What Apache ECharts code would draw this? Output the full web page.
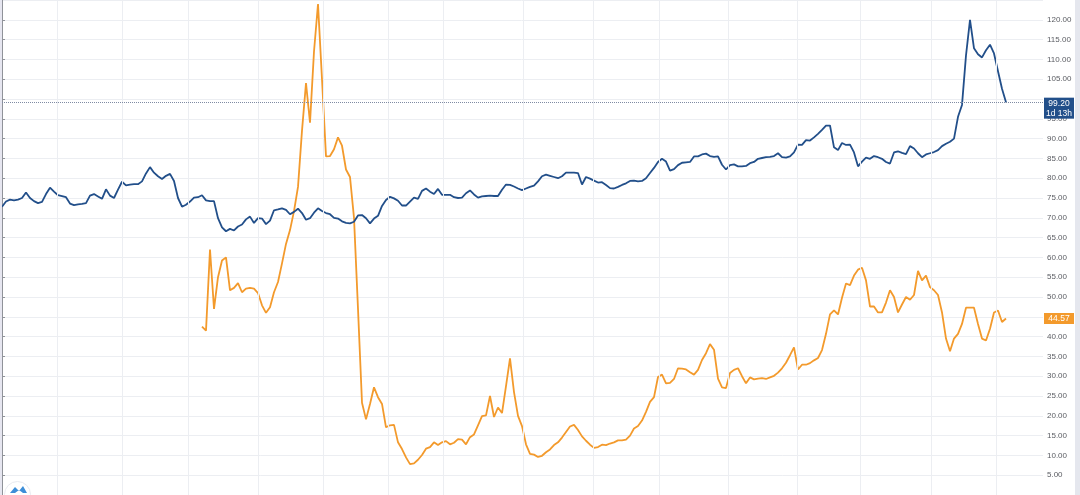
<!DOCTYPE html>
<html>
<head>
<meta charset="utf-8">
<script src="https://cdn.jsdelivr.net/npm/echarts@6/dist/echarts.min.js"></script>
<style>
html,body{margin:0;padding:0;background:#fff;}
#chart{width:1080px;height:495px;}
</style>
</head>
<body>
<div id="chart"></div>
<script>
// Blue series (one value per bar, index 0..251)
const blueValues = [
72.8,74.1,74.6,74.4,74.6,75.0,76.4,75.0,74.2,73.7,
74.0,76.0,77.6,76.6,75.7,75.5,75.2,73.6,73.2,73.4,
73.5,73.7,75.6,76.0,75.4,74.8,77.2,75.6,75.0,77.1,
79.1,78.2,78.4,78.5,78.5,79.2,81.2,82.8,81.4,80.5,
79.8,80.6,81.1,79.3,75.0,72.8,73.3,74.1,75.1,75.2,
75.7,74.4,74.2,74.2,69.9,67.6,66.6,67.2,66.8,67.8,
68.3,69.6,70.3,68.7,69.9,69.8,68.4,69.3,71.9,72.1,
72.4,72.0,70.9,71.5,72.3,71.2,69.5,69.9,71.3,72.4,
71.7,71.2,70.9,70.0,69.8,69.1,68.7,68.6,69.0,70.6,
70.7,69.9,68.6,69.8,70.5,73.0,74.5,75.3,74.9,74.3,
73.1,73.1,74.1,75.1,74.8,76.8,77.4,76.6,76.0,77.3,
75.8,75.8,75.8,75.2,75.0,75.1,76.2,76.9,75.9,75.1,
75.4,75.5,75.6,75.5,75.5,77.1,78.4,78.3,77.9,77.4,
77.0,77.4,77.8,78.1,79.2,80.5,80.9,80.6,80.3,80.0,
80.5,81.4,81.4,81.4,81.3,78.4,80.3,79.9,79.4,78.9,
79.0,78.3,77.5,77.4,77.8,78.3,78.7,79.3,79.4,79.2,
79.3,80.0,81.3,82.6,84.1,84.9,84.2,81.9,82.3,83.3,
83.9,84.0,84.1,85.5,85.5,86.0,86.2,85.6,85.4,85.5,
83.4,82.2,83.3,83.5,83.0,83.0,83.1,83.8,84.1,84.9,
85.1,85.3,85.4,85.6,86.3,85.3,85.2,85.5,86.5,88.5,
88.4,89.6,89.5,90.3,91.2,92.2,93.3,93.3,87.8,87.1,
88.9,88.4,88.5,86.5,83.0,84.2,85.2,84.9,85.6,85.3,
84.9,84.1,83.7,86.5,86.8,86.4,86.1,88.1,87.5,86.3,
85.3,86.0,86.3,86.6,87.1,88.1,88.7,89.2,90.0,95.5,
98.5,111.0,120.0,112.8,111.3,110.5,112.3,113.7,111.5,107.0,
102.6,99.2
];

// Orange series starts at bar index 50
const orangeStart = 50;
const orangeValues = [
42.5,41.5,62.0,47.0,55.0,59.2,60.0,51.7,52.3,53.5,
51.2,52.1,52.3,52.1,51.0,47.9,46.0,47.4,51.2,53.8,
58.5,63.4,66.9,71.7,77.8,92.0,104.0,94.0,112.0,124.0,
105.0,85.5,85.6,87.3,90.3,88.2,82.2,80.3,70.0,47.0,
23.3,19.1,23.0,27.2,24.7,23.0,17.1,17.6,17.7,13.3,
11.6,9.5,7.8,8.0,8.9,10.1,11.7,12.1,13.3,12.6,
13.3,13.6,12.8,13.2,14.1,14.0,12.8,14.6,15.3,17.6,
19.9,20.1,25.0,19.7,22.1,20.7,27.5,34.5,26.0,20.0,
17.4,12.8,10.4,10.2,9.6,9.9,10.8,11.5,12.6,13.3,
14.5,15.9,17.3,17.7,16.4,14.8,13.7,12.7,11.9,12.1,
12.7,12.6,13.0,13.3,13.8,13.8,14.0,15.0,16.8,17.4,
18.8,21.0,23.5,24.7,29.8,30.4,28.2,28.3,29.3,32.0,
31.9,31.7,31.0,30.4,31.6,34.1,35.8,38.1,36.7,29.4,
27.2,27.0,30.8,31.6,32.0,30.0,28.2,29.7,29.2,29.4,
29.5,29.3,29.7,30.1,30.9,32.0,33.4,35.3,37.3,31.7,
32.9,32.9,33.3,34.0,34.6,36.6,40.7,45.6,46.6,45.6,
49.8,53.4,53.0,55.4,56.9,57.4,54.2,47.6,47.6,46.1,
46.1,48.6,51.7,50.0,46.1,48.1,50.0,49.3,50.5,56.6,
54.2,55.4,52.5,51.7,50.5,46.1,39.5,36.3,39.5,40.7,
43.2,47.3,47.3,47.3,43.2,39.5,39.0,42.0,46.1,46.6,
43.7,44.57
];

// Vertical grid (time-axis) tick positions, in bar index units
const xGridTicks = [13.75, 30, 46.5, 64, 80.25, 96.5, 110.25, 130.25, 147.75, 164.25, 181.5, 198.75, 214.5, 232.25, 248.5];

// Price-axis ticks
const yMin = 0, yMax = 125, yStep = 5;

const blueLast = blueValues[blueValues.length - 1];
const orangeLast = orangeValues[orangeValues.length - 1];
const countdownText = '1d 13h';

const BLUE = '#224f8a';
const ORANGE = '#f39a2c';
const FONT = 'Liberation Sans, Arial, sans-serif';

const chart = echarts.init(document.getElementById('chart'), null, {renderer: 'canvas'});

const blueData = blueValues.map((v, i) => [i, v]);
const orangeData = orangeValues.map((v, k) => [orangeStart + k, v]);

const boxStyle = (bg) => ({
  backgroundColor: bg, color: '#ffffff', fontSize: 8.5, fontFamily: FONT,
  width: 26, align: 'center', lineHeight: 10, padding: [1, 2]
});

// axis labels that sit under a last-price box are hidden (as the price scale does)
const hiddenNear = [blueLast, orangeLast];

const option = {
  animation: false,
  backgroundColor: '#ffffff',
  grid: { left: 0, right: 37, top: -5.15, bottom: -11.15, containLabel: false },
  xAxis: {
    type: 'value',
    min: -0.5,
    max: 260.25,
    show: false,
    splitLine: { show: false }
  },
  yAxis: {
    type: 'value',
    position: 'right',
    min: yMin,
    max: yMax,
    interval: yStep,
    z: 1,
    axisLine: { show: true, lineStyle: { color: '#8f9299', width: 1 } },
    axisTick: { show: true, length: 3, lineStyle: { color: '#8f9299' } },
    axisLabel: {
      color: '#5a5c62',
      fontSize: 8,
      fontFamily: FONT,
      margin: 4,
      showMinLabel: false,
      showMaxLabel: false,
      formatter: v => hiddenNear.some(h => Math.abs(h - v) < 2.5) ? '' : v.toFixed(2)
    },
    splitLine: { show: true, lineStyle: { color: '#eceef2', width: 1 } }
  },
  graphic: [
    { type: 'rect', left: 0, top: 0, shape: { width: 2, height: 495 }, style: { fill: '#e6e6f0' }, z: 100 },
    { type: 'rect', right: 0, top: 0, shape: { width: 5, height: 495 }, style: { fill: '#e5e7ee' }, z: 100 },
    { type: 'circle', left: 4, top: 481, shape: { r: 13 }, style: { fill: '#ffffff', stroke: '#e8eaf0', lineWidth: 1 }, z: 100 },
    { type: 'polygon', left: 10, top: 486, shape: { points: [[0,8],[5,2],[9,6],[13,1],[17,8],[13,8],[9,5],[5,8]] }, style: { fill: '#3d8ed8' }, z: 101 }
  ],
  series: [
    {
      name: 'grid',
      type: 'line',
      data: [],
      silent: true,
      z: 1,
      markLine: {
        silent: true,
        symbol: ['none', 'none'],
        animation: false,
        label: { show: false },
        lineStyle: { color: '#eceef2', width: 1, type: 'solid' },
        data: xGridTicks.map(x => ({ xAxis: x }))
      }
    },
    {
      name: 'Orange',
      type: 'line',
      data: orangeData,
      showSymbol: false,
      symbol: 'none',
      smooth: false,
      z: 3,
      lineStyle: { color: ORANGE, width: 1.8 },
      markLine: {
        silent: true,
        z: 10,
        symbol: ['none', 'none'],
        lineStyle: { color: 'rgba(0,0,0,0)', width: 0 },
        label: {
          show: true,
          position: 'end',
          distance: 1,
          formatter: '{c|' + orangeLast.toFixed(2) + '}',
          rich: { c: boxStyle(ORANGE) }
        },
        data: [{ yAxis: orangeLast }]
      }
    },
    {
      name: 'Blue',
      type: 'line',
      data: blueData,
      showSymbol: false,
      symbol: 'none',
      smooth: false,
      z: 4,
      lineStyle: { color: BLUE, width: 1.8 },
      markLine: {
        silent: true,
        z: 10,
        symbol: ['none', 'none'],
        lineStyle: { color: '#7f8ba3', width: 1, type: 'dotted' },
        label: {
          show: true,
          position: 'end',
          distance: 1,
          padding: [12, 0, 0, 0],
          formatter: '{a|' + blueLast.toFixed(2) + '}\n{b|' + countdownText + '}',
          rich: { a: boxStyle(BLUE), b: boxStyle(BLUE) }
        },
        data: [{ yAxis: blueLast }]
      }
    }
  ]
};

chart.setOption(option);
</script>
</body>
</html>
